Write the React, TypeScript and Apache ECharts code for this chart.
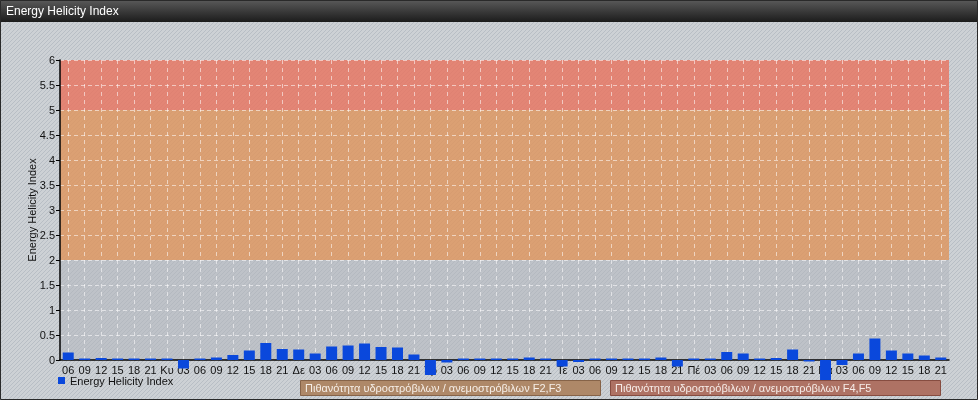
import React, { useEffect, useRef } from "react";
import * as echarts from "echarts";

const categories = [
  "06", "09", "12", "15", "18", "21",
  "Κυ", "03", "06", "09", "12", "15", "18", "21",
  "Δε", "03", "06", "09", "12", "15", "18", "21",
  "Τρ", "03", "06", "09", "12", "15", "18", "21",
  "Τε", "03", "06", "09", "12", "15", "18", "21",
  "Πέ", "03", "06", "09", "12", "15", "18", "21",
  "Πα", "03", "06", "09", "12", "15", "18", "21",
];

const helicityValues = [
  0.15, 0.03, 0.04, 0.03, 0.03, 0.03,
  0.03, -0.17, 0.03, 0.05, 0.1, 0.19, 0.34, 0.22,
  0.21, 0.13, 0.27, 0.29, 0.33, 0.26, 0.25, 0.11,
  -0.3, -0.05, 0.03, 0.03, 0.03, 0.03, 0.05, 0.03,
  -0.13, -0.04, 0.03, 0.03, 0.03, 0.03, 0.05, -0.13,
  0.03, 0.03, 0.16, 0.13, 0.03, 0.04, 0.21, -0.03,
  -0.42, -0.1, 0.13, 0.43, 0.19, 0.13, 0.09, 0.05,
];

const bandLimits = [0, 2, 5, 6];
const bandColors = ["rgba(176,180,188,0.5)", "rgba(222,148,90,0.8)", "rgba(232,114,92,0.8)"];

const seriesName = "Energy Helicity Index";
const titleText = "Energy Helicity Index";
const bandLabels = [
  "Πιθανότητα υδροστρόβιλων / ανεμοστρόβιλων F2,F3",
  "Πιθανότητα υδροστρόβιλων / ανεμοστρόβιλων F4,F5",
];

const FONT = "'Liberation Sans', Arial, sans-serif";

const tile =
  "data:image/svg+xml;utf8," +
  encodeURIComponent(
    "<svg xmlns='http://www.w3.org/2000/svg' width='4' height='4'>" +
      "<rect width='4' height='4' fill='#cdd1d5'/>" +
      "<rect x='3' y='0' width='1' height='1' fill='#b8bec5'/>" +
      "<rect x='2' y='1' width='1' height='1' fill='#b8bec5'/>" +
      "<rect x='1' y='2' width='1' height='1' fill='#b8bec5'/>" +
      "<rect x='0' y='3' width='1' height='1' fill='#b8bec5'/>" +
      "</svg>"
  );

export default function App() {
  const ref = useRef<HTMLDivElement>(null);

  useEffect(() => {
    if (!ref.current) return;
    const chart = echarts.init(ref.current, null, { renderer: "svg" });
    const bands = bandColors.map((c, i) => [
      { yAxis: bandLimits[i], itemStyle: { color: c } },
      { yAxis: bandLimits[i + 1] },
    ]);
    chart.setOption({
      animation: false,
      backgroundColor: "transparent",
      textStyle: { fontFamily: FONT },
      grid: { left: 60, right: 29, top: 60, bottom: 40 },
      legend: {
        data: [{ name: seriesName, icon: "rect" }],
        left: 58,
        top: 375,
        padding: 0,
        itemWidth: 7,
        itemHeight: 7,
        textStyle: { fontSize: 11, color: "#111", fontFamily: FONT },
        selectedMode: false,
      },
      xAxis: {
        type: "category",
        data: categories,
        boundaryGap: true,
        axisLine: { lineStyle: { color: "#000", width: 1.5 } },
        axisTick: { show: false },
        axisLabel: { interval: 0, color: "#111", fontSize: 11, margin: 4, fontFamily: FONT },
        splitLine: {
          show: true,
          alignWithLabel: true,
          lineStyle: { color: "rgba(255,255,255,0.55)", type: [4, 4], width: 1 },
        },
      },
      yAxis: {
        type: "value",
        min: 0,
        max: 6,
        interval: 0.5,
        name: "Energy Helicity Index",
        nameLocation: "middle",
        nameGap: 23,
        nameMoveOverlap: false,
        nameTextStyle: { fontSize: 11, color: "#111", fontFamily: FONT },
        axisLine: { show: true, lineStyle: { color: "#000", width: 1.5 } },
        axisTick: { show: true, length: 4, lineStyle: { color: "#000" } },
        axisLabel: { color: "#111", fontSize: 11, margin: 5, fontFamily: FONT },
        splitLine: {
          show: true,
          lineStyle: { color: "rgba(255,255,255,0.55)", type: [4, 3], width: 1 },
        },
      },
      series: [
        {
          name: "bands",
          type: "line",
          data: [],
          silent: true,
          z: -1,
          markArea: { silent: true, z: -1, data: bands },
        },
        {
          name: seriesName,
          type: "bar",
          data: helicityValues,
          barWidth: 11,
          clip: false,
          z: 2,
          itemStyle: { color: "#0a48dc" },
        },
      ],
      graphic: [
        {
          type: "rect",
          shape: { x: 0, y: 0, width: 978, height: 22 },
          style: {
            fill: new echarts.graphic.LinearGradient(0, 0, 0, 1, [
              { offset: 0, color: "#5a5a5a" },
              { offset: 1, color: "#1c1c1c" },
            ]),
          },
          z: 10,
        },
        {
          type: "text",
          x: 6,
          y: 11,
          style: {
            text: titleText,
            fill: "#ffffff",
            fontSize: 12,
            fontFamily: FONT,
            verticalAlign: "middle",
          },
          z: 11,
        },
        {
          type: "rect",
          shape: { x: 0.5, y: 0.5, width: 977, height: 399 },
          style: { fill: "none", stroke: "#2a2a2a", lineWidth: 1 },
          z: 12,
        },
        {
          type: "rect",
          shape: { x: 300.5, y: 380.5, width: 300, height: 15 },
          style: { fill: "#ae8868", stroke: "#866348", lineWidth: 1 },
          z: 10,
        },
        {
          type: "text",
          x: 305,
          y: 388,
          style: {
            text: bandLabels[0],
            fill: "#f6efe8",
            fontSize: 11,
            fontFamily: FONT,
            verticalAlign: "middle",
          },
          z: 11,
        },
        {
          type: "rect",
          shape: { x: 610.5, y: 380.5, width: 330, height: 15 },
          style: { fill: "#ae7264", stroke: "#864c40", lineWidth: 1 },
          z: 10,
        },
        {
          type: "text",
          x: 615,
          y: 388,
          style: {
            text: bandLabels[1],
            fill: "#f6ece8",
            fontSize: 11,
            fontFamily: FONT,
            verticalAlign: "middle",
          },
          z: 11,
        },
      ],
    });
    return () => chart.dispose();
  }, []);

  return (
    <div
      style={{
        position: "fixed",
        left: 0,
        top: 0,
        width: 978,
        height: 400,
        backgroundImage: `url("${tile}")`,
        backgroundRepeat: "repeat",
      }}
    >
      <div ref={ref} style={{ width: 978, height: 400 }} />
    </div>
  );
}
